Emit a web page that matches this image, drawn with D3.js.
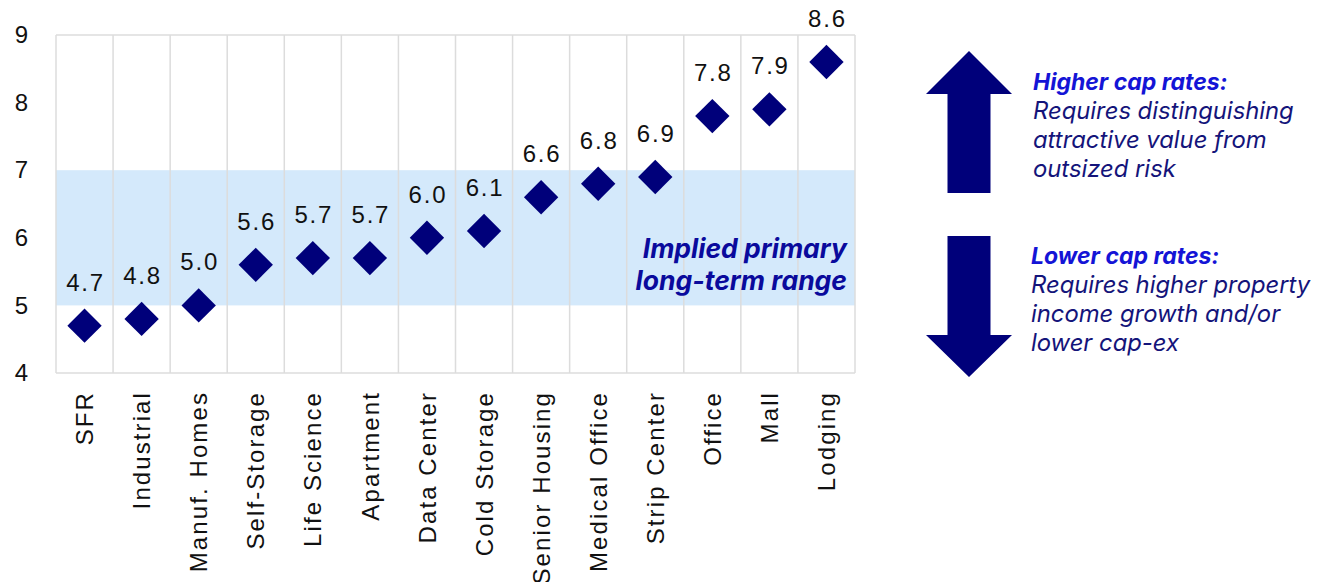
<!DOCTYPE html>
<html>
<head>
<meta charset="utf-8">
<script src="https://cdn.jsdelivr.net/npm/d3@7"></script>
<style>
  body { margin: 0; background: #fff; }
  svg { display: block; }
</style>
</head>
<body>
<div class="App"></div>
<script>
var categories = ['SFR', 'Industrial', 'Manuf. Homes', 'Self-Storage', 'Life Science', 'Apartment',
  'Data Center', 'Cold Storage', 'Senior Housing', 'Medical Office', 'Strip Center', 'Office', 'Mall', 'Lodging'];
var capRates = [4.7, 4.8, 5.0, 5.6, 5.7, 5.7, 6.0, 6.1, 6.6, 6.8, 6.9, 7.8, 7.9, 8.6];
var yTicks = [4, 5, 6, 7, 8, 9];
var rangeBand = [5, 7];
var bandText = ['Implied primary', 'long-term range'];
var upNote = ['Higher cap rates:', 'Requires distinguishing', 'attractive value from', 'outsized risk'];
var downNote = ['Lower cap rates:', 'Requires higher property', 'income growth and/or', 'lower cap-ex'];

var W = 1321, H = 582;
var margin = {top: 35, left: 56, right: 466, bottom: 209};
var width = W - margin.left - margin.right,
    height = H - margin.top - margin.bottom;

var navy = '#00007a';
var font = 'Liberation Sans, Arial, sans-serif';
var noteFont = 'Inter, Roboto, sans-serif';

var svg = d3.select('.App').append('svg').attr('width', W).attr('height', H);
var chart = svg.append('g').attr('transform', 'translate(' + margin.left + ',' + margin.top + ')');

var x = d3.scaleBand().domain(categories).range([0, width]);
var y = d3.scaleLinear().domain([4, 9]).range([height, 0]);

// shaded range
chart.append('rect')
    .attr('x', 0).attr('width', width)
    .attr('y', y(rangeBand[1]))
    .attr('height', y(rangeBand[0]) - y(rangeBand[1]))
    .attr('fill', '#d4e9fb');

// vertical grid lines + frame
var edges = categories.map(function(c) { return x(c); }).concat([width]);
chart.selectAll('.grid').data(edges).enter().append('line')
    .attr('class', 'grid')
    .attr('x1', d => d).attr('x2', d => d)
    .attr('y1', 0).attr('y2', height)
    .attr('stroke', '#dcdcdc').attr('stroke-width', 1.5);
[0, height].forEach(function(yy) {
  chart.append('line').attr('x1', 0).attr('x2', width).attr('y1', yy).attr('y2', yy)
      .attr('stroke', '#dcdcdc').attr('stroke-width', 1.5);
});

// y axis
var yAxis = d3.axisLeft(y).tickValues(yTicks).tickSize(0).tickPadding(28).tickFormat(d3.format('d'));
var ya = chart.append('g').call(yAxis);
ya.select('.domain').remove();
ya.selectAll('text').attr('font-family', font).attr('font-size', 24).attr('fill', '#111');

// x axis labels (rotated)
var xAxis = d3.axisBottom(x).tickSize(0).tickPadding(0);
var xa = chart.append('g').attr('transform', 'translate(0,' + height + ')').call(xAxis);
xa.select('.domain').remove();
xa.selectAll('text')
    .attr('font-family', font).attr('font-size', 24).attr('fill', '#111')
    .attr('letter-spacing', 2.1)
    .attr('text-anchor', 'end')
    .attr('transform', 'rotate(-90)')
    .attr('x', -18).attr('y', 0).attr('dy', '0.36em');

// diamonds
var diamond = d3.symbol().type(d3.symbolSquare).size(590);
chart.selectAll('.pt').data(capRates).enter().append('path')
    .attr('class', 'pt')
    .attr('d', diamond)
    .attr('transform', (d, i) => 'translate(' + (x(categories[i]) + x.bandwidth() / 2) + ',' + y(d) + ') rotate(45)')
    .attr('fill', navy);

// value labels
chart.selectAll('.val').data(capRates).enter().append('text')
    .attr('class', 'val')
    .attr('x', (d, i) => x(categories[i]) + x.bandwidth() / 2 + 1)
    .attr('y', d => y(d) - 35)
    .attr('text-anchor', 'middle')
    .attr('font-family', font).attr('font-size', 24).attr('fill', '#111')
    .attr('letter-spacing', 1.8)
    .text(d => d3.format('.1f')(d));

// band annotation
chart.selectAll('.band-txt').data(bandText).enter().append('text')
    .attr('x', width - 8)
    .attr('y', (d, i) => y(6) + 20 + i * 32)
    .attr('text-anchor', 'end')
    .attr('font-family', noteFont).attr('font-size', 26.5)
    .attr('font-weight', 700).attr('font-style', 'italic')
    .attr('fill', '#0a0a9c')
    .text(d => d);

// arrows
function arrow(tipY, headY, tailY) {
  var cx = 969, hw = 43, sw = 21.5;
  return 'M' + cx + ',' + tipY +
    'L' + (cx + hw) + ',' + headY +
    'L' + (cx + sw) + ',' + headY +
    'L' + (cx + sw) + ',' + tailY +
    'L' + (cx - sw) + ',' + tailY +
    'L' + (cx - sw) + ',' + headY +
    'L' + (cx - hw) + ',' + headY + 'Z';
}
svg.append('path').attr('d', arrow(51, 94, 193)).attr('fill', navy);
svg.append('path').attr('d', arrow(377, 335, 236)).attr('fill', navy);

function note(lines, x0, y0) {
  svg.selectAll(null).data(lines).enter().append('text')
      .attr('x', x0)
      .attr('y', (d, i) => y0 + i * 29)
      .attr('font-family', noteFont)
      .attr('font-size', (d, i) => i === 0 ? 23 : 23.8)
      .attr('font-style', 'italic')
      .attr('font-weight', (d, i) => i === 0 ? 700 : 400)
      .attr('fill', (d, i) => i === 0 ? '#1414d6' : '#14147a')
      .text(d => d);
}
note(upNote, 1033, 90);
note(downNote, 1031, 264);
</script>
</body>
</html>
